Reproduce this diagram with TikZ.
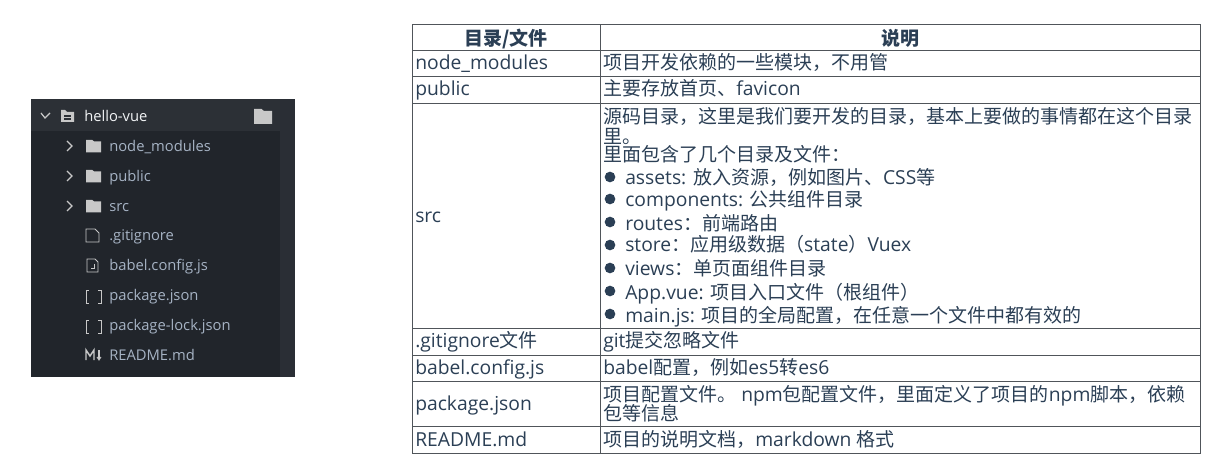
\documentclass[tikz,border=0pt]{standalone}
\usepackage{fontspec}
\setmainfont[Scale=1.015]{Open Sans}
\newfontfamily\cjkfont{Noto Sans CJK SC}
\newcommand{\Z}[1]{{\cjkfont #1}}
\definecolor{inkc}{HTML}{2B3F55}
\definecolor{rulec}{HTML}{50555A}
\definecolor{panelc}{HTML}{21252B}
\definecolor{topc}{HTML}{2C3036}
\definecolor{stripc}{HTML}{2A2E35}
\definecolor{treec}{HTML}{A6B3C4}
\definecolor{iconc}{HTML}{C8C8C8}
\tikzset{
  cell/.style={anchor=base west,inner sep=0pt,yshift=-0.75pt,text=inkc,font=\fontsize{14.25pt}{16pt}\selectfont},
  headcell/.style={anchor=base,inner sep=0pt,yshift=-0.75pt,text=inkc,font=\fontsize{14.25pt}{16pt}\selectfont\bfseries},
  tree/.style={anchor=base west,inner sep=0pt,yshift=-0.75pt,text=treec,font=\fontsize{10.9pt}{13pt}\selectfont},
  treetop/.style={tree,text=white!85!treec},
  grid/.style={draw=rulec,line width=0.75pt},
  dotb/.style={circle,fill=inkc,inner sep=0pt,minimum size=8pt},
  chev/.style={draw=iconc,line width=0.9pt,fill=none},
  ficon/.style={fill=iconc,draw=none},
  oicon/.style={draw=iconc,line width=0.6pt,fill=none}
}
\newcommand{\folder}[3]{\fill[ficon] (#1,#2) -- ++(#3*0.42,0) -- ++(#3*0.12,#3*0.1) -- ++(#3*0.46,0) -- ++(0,#3*0.72) -- ++(-#3,0) -- cycle;}
\begin{document}
\begin{tikzpicture}[x=0.75pt,y=-0.75pt]
\useasboundingbox (0,0) rectangle (1225,474);
% file tree panel
\fill[panelc] (31,99) rectangle (295,377);
\fill[stripc] (280,99) rectangle (295,377);
\fill[topc] (31,99) rectangle (280,131);
\draw[chev] (41,113) -- (45,118) -- (50,113);
\fill[ficon] (61,110) -- (65,110) -- (67,112) -- (74,112) -- (74,122) -- (61,122) -- cycle;
\draw[topc,line width=1pt] (64,116) -- (71,116) (64,119) -- (71,119);
\folder{254}{109}{18}
\foreach \yy in {146,176,206}{
  \draw[chev] (67,\yy-5) -- (72,\yy) -- (67,\yy+5);
  \folder{86}{\yy-6}{15}
}
\node[treetop] (root) at (84,121) {hello-vue};
\node[tree] (t1) at (109,151) {node\_modules};
\node[tree] (t2) at (109,181) {public};
\node[tree] (t3) at (109,211) {src};
\node[tree] (t4) at (109,240) {.gitignore};
\node[tree] (t5) at (109,270) {babel.config.js};
\node[tree] (t6) at (109,299.5) {package.json};
\node[tree] (t7) at (109,329.5) {package-lock.json};
\node[tree] (t8) at (109,359.5) {README.md};
% file icons
\draw[oicon] (86,229) -- (95,229) -- (99,233) -- (99,242) -- (86,242) -- cycle;
\draw[oicon] (87,259) -- (95,259) -- (98,262) -- (98,272) -- (87,272) -- cycle;
\draw[oicon] (94,264) -- (94,268) -- (91,268);
\draw[oicon] (89,290) -- (86,290) -- (86,303) -- (89,303);
\draw[oicon] (98,290) -- (101,290) -- (101,303) -- (98,303);
\draw[oicon] (89,320) -- (86,320) -- (86,333) -- (89,333);
\draw[oicon] (98,320) -- (101,320) -- (101,333) -- (98,333);
\draw[oicon,line width=1.1pt] (86,360) -- (86,350) -- (90,356) -- (94,350) -- (94,360);
\draw[oicon,line width=1pt] (99,350) -- (99,359);
\draw[oicon,line width=0.7pt] (97,357) -- (99,360) -- (101,357);
% table rules
\draw[grid] (412.5,25) rectangle (1200,453);
\draw[grid] (600.5,25) -- (600.5,453);
\foreach \yy in {51,77,104,328,355,381,426}{
  \draw[grid] (412.5,\yy) -- (1200,\yy);
}
% table text
\node[headcell] (h1) at (506,45) {\Z{目录/文件}};
\node[headcell] (h2) at (900,45) {\Z{说明}};
\node[cell] (a1) at (415,69) {node\_modules};
\node[cell] (a2) at (415,95) {public};
\node[cell] (a3) at (415,222) {src};
\node[cell] (a4) at (415,346) {.gitignore\Z{文件}};
\node[cell] (a5) at (415,373) {babel.config.js};
\node[cell] (a6) at (415,409) {package.json};
\node[cell] (a7) at (415,445) {README.md};
\node[cell] (b1) at (603,69) {\Z{项目开发依赖的一些模块，不用管}};
\node[cell] (b2) at (603,95) {\Z{主要存放首页、}favicon};
\node[cell] (b3) at (603,123) {\Z{源码目录，这里是我们要开发的目录，基本上要做的事情都在这个目录}};
\node[cell] (b4) at (603,142.5) {\Z{里。}};
\node[cell] (b5) at (603,161) {\Z{里面包含了几个目录及文件：}};
\node[dotb] (d1) at (610,177) {};
\node[cell] (b6) at (625,184) {assets: \Z{放入资源，例如图片、}CSS\Z{等}};
\node[dotb] (d2) at (610,199) {};
\node[cell] (b7) at (625,206) {components: \Z{公共组件目录}};
\node[dotb] (d3) at (610,222) {};
\node[cell] (b8) at (625,229) {routes\Z{：前端路由}};
\node[dotb] (d4) at (610,245) {};
\node[cell] (b9) at (625,251) {store\Z{：应用级数据（}state\Z{）}Vuex};
\node[dotb] (d5) at (610,268) {};
\node[cell] (b10) at (625,275) {views\Z{：单页面组件目录}};
\node[dotb] (d6) at (610,291) {};
\node[cell] (b11) at (625,298) {App.vue: \Z{项目入口文件（根组件）}};
\node[dotb] (d7) at (610,314) {};
\node[cell] (b12) at (625,321) {main.js: \Z{项目的全局配置，在任意一个文件中都有效的}};
\node[cell] (b13) at (603,346) {git\Z{提交忽略文件}};
\node[cell] (b14) at (603,373) {babel\Z{配置，例如}es5\Z{转}es6};
\node[cell] (b15) at (603,400) {\Z{项目配置文件。} npm\Z{包配置文件，里面定义了项目的}npm\Z{脚本，依赖}};
\node[cell] (b16) at (603,419) {\Z{包等信息}};
\node[cell] (b17) at (603,445) {\Z{项目的说明文档，}markdown \Z{格式}};
\end{tikzpicture}
\end{document}
